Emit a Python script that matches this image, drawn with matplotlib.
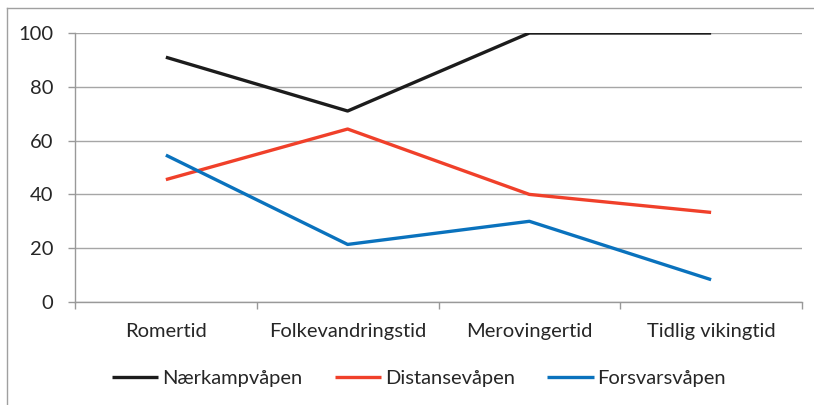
import matplotlib.pyplot as plt
from matplotlib.lines import Line2D

# data
periods = ['Romertid', 'Folkevandringstid', 'Merovingertid', 'Tidlig vikingtid']
naerkamp = [91, 71, 100, 100]
distanse = [45.5, 64.3, 40, 33.3]
forsvar = [54.6, 21.4, 30, 8.3]
series_names = ['Nærkampvåpen', 'Distansevåpen', 'Forsvarsvåpen']
colors = ['#1c1c1c', '#f0402a', '#0a72bd']

plt.rcParams['font.family'] = ['Lato', 'DejaVu Sans']

W, H = 814, 405
fig = plt.figure(figsize=(W / 100, H / 100), dpi=100)
ax = fig.add_axes([75 / W, (H - 302) / H, 727 / W, 269 / H])

x = list(range(len(periods)))
for vals, name, c in zip([naerkamp, distanse, forsvar], series_names, colors):
    ax.plot(x, vals, color=c, lw=2.4, label=name, solid_capstyle='butt', zorder=3)

ax.set_xlim(-0.5, len(periods) - 0.5)
ax.set_ylim(0, 100)
ax.set_yticks(range(0, 101, 20))
ax.set_xticks(x)
ax.set_xticklabels(periods)
ax.set_xticks([i - 0.5 for i in range(len(periods) + 1)], minor=True)
ax.tick_params(axis='x', which='major', length=0, pad=15, labelsize=14.5, colors='#262626')
ax.tick_params(axis='x', which='minor', length=5, width=1, color='#999999')
ax.tick_params(axis='y', length=5, width=1, color='#999999', pad=10.5, labelsize=14.5, labelcolor='#262626')
ax.grid(axis='y', color='#a6a6a6', lw=1)
ax.set_axisbelow(True)
for s in ['top', 'right']:
    ax.spines[s].set_visible(False)
for s in ['left', 'bottom']:
    ax.spines[s].set_color('#999999')
    ax.spines[s].set_linewidth(1)

# chart border (left and top)
fig.add_artist(Line2D([7 / W, 7 / W], [0, 1 - 8 / H], transform=fig.transFigure, color='#a0a0a0', lw=1))
fig.add_artist(Line2D([7 / W, 1], [1 - 8 / H, 1 - 8 / H], transform=fig.transFigure, color='#a0a0a0', lw=1))

fig.legend(loc='center', bbox_to_anchor=(419 / W, 1 - 378 / H), ncol=3, frameon=False,
           fontsize=14.5, handlelength=2.3, handletextpad=0.2, columnspacing=1.6,
           labelcolor='#262626')

fig.savefig('out.png', dpi=100)
